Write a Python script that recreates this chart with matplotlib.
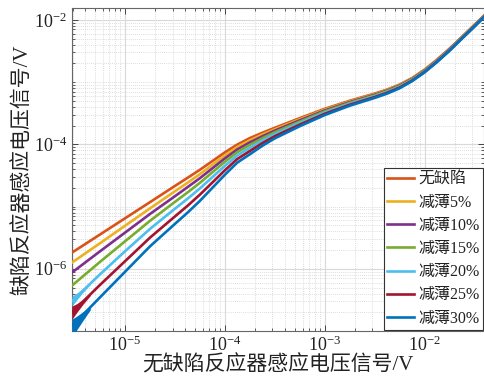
import matplotlib
matplotlib.use("Agg")
import numpy as np
import matplotlib.pyplot as plt
from matplotlib.ticker import LogLocator, NullFormatter, FixedLocator

plt.rcParams['font.family'] = ['Liberation Serif', 'Noto Sans CJK SC']
plt.rcParams['mathtext.fontset'] = 'stix'

# x: 无缺陷反应器感应电压信号 (V)
x_vals = [2.95e-6, 5.62e-6, 1.00e-5, 1.78e-5, 3.16e-5, 4.22e-5, 5.62e-5, 7.50e-5, 1.00e-4,
          1.33e-4, 1.78e-4, 2.37e-4, 3.16e-4, 5.62e-4, 1.00e-3, 1.78e-3, 3.16e-3, 4.22e-3,
          5.62e-3, 7.50e-3, 1.00e-2, 1.33e-2, 1.78e-2, 2.37e-2, 3.16e-2, 3.98e-2]

labels = ['无缺陷', '减薄5%', '减薄10%', '减薄15%', '减薄20%', '减薄25%', '减薄30%']

logy_none = [-5.74, -5.45, -5.19, -4.93, -4.67, -4.54, -4.41, -4.27, -4.13, -4.005, -3.90,
             -3.815, -3.735, -3.58, -3.43, -3.30, -3.185, -3.12, -3.04, -2.935, -2.80, -2.64,
             -2.462, -2.272, -2.08, -1.925]
logy_05 = [-5.90, -5.59, -5.31, -5.03, -4.755, -4.62, -4.48, -4.33, -4.18, -4.045, -3.936,
           -3.844, -3.759, -3.598, -3.444, -3.311, -3.195, -3.129, -3.048, -2.942, -2.806,
           -2.646, -2.467, -2.276, -2.084, -1.929]
logy_10 = [-6.06, -5.72, -5.42, -5.12, -4.835, -4.69, -4.545, -4.386, -4.227, -4.083, -3.97,
           -3.872, -3.781, -3.615, -3.457, -3.322, -3.204, -3.138, -3.056, -2.949, -2.812,
           -2.651, -2.471, -2.28, -2.088, -1.932]
logy_15 = [-6.27, -5.89, -5.56, -5.23, -4.926, -4.775, -4.62, -4.45, -4.281, -4.127, -4.009,
           -3.903, -3.806, -3.635, -3.472, -3.334, -3.214, -3.147, -3.065, -2.956, -2.819,
           -2.657, -2.477, -2.285, -2.093, -1.936]
logy_20 = [-6.52, -6.09, -5.72, -5.36, -5.036, -4.876, -4.71, -4.528, -4.346, -4.179, -4.056,
           -3.941, -3.837, -3.658, -3.49, -3.348, -3.227, -3.159, -3.076, -2.965, -2.827,
           -2.664, -2.483, -2.29, -2.098, -1.94]
logy_25 = [-6.70, -6.26, -5.88, -5.50, -5.16, -4.99, -4.81, -4.614, -4.418, -4.237, -4.108,
           -3.983, -3.871, -3.684, -3.51, -3.364, -3.241, -3.172, -3.088, -2.975, -2.836,
           -2.672, -2.49, -2.296, -2.104, -1.945]
logy_30 = [-6.92, -6.46, -6.05, -5.64, -5.28, -5.10, -4.91, -4.70, -4.49, -4.295, -4.16,
           -4.025, -3.905, -3.71, -3.53, -3.38, -3.255, -3.185, -3.10, -2.985, -2.845, -2.68,
           -2.497, -2.302, -2.11, -1.95]

# noisy spread at the smallest signals (log10 V)
x_band = [2.95e-6, 3.3e-6, 3.8e-6, 4.5e-6]
band_20_hi = [-6.44, -6.39, -6.32, -6.23]
band_20_lo = [-6.60, -6.50, -6.38, -6.25]
band_25_hi = [-6.60, -6.56, -6.49, -6.40]
band_25_lo = [-6.81, -6.70, -6.57, -6.43]
band_30_hi = [-6.81, -6.76, -6.69, -6.61]
band_30_lo = [-7.10, -6.98, -6.83, -6.66]

colors = ['#D95319', '#EDB120', '#7E2F8E', '#77AC30', '#4DBEEE', '#A2142F', '#0072BD']
series = [logy_none, logy_05, logy_10, logy_15, logy_20, logy_25, logy_30]
bands = {4: (band_20_lo, band_20_hi), 5: (band_25_lo, band_25_hi), 6: (band_30_lo, band_30_hi)}

fig = plt.figure(figsize=(4.85, 3.81), dpi=100)
ax = fig.add_axes([72 / 485, 50 / 381, 412.5 / 485, 323 / 381])

for i, (ly, c, lab) in enumerate(zip(series, colors, labels)):
    ax.plot(x_vals, np.power(10.0, ly), color=c, lw=1.9, label=lab, zorder=3 + i * 0.01,
            solid_joinstyle='round')
    if i in bands:
        lo, hi = bands[i]
        ax.fill_between(x_band, np.power(10.0, lo), np.power(10.0, hi), color=c, lw=0,
                        zorder=3 + i * 0.01)

ax.set_xscale('log')
ax.set_yscale('log')
ax.set_xlim(2.95e-6, 3.98e-2)
ax.set_ylim(1.0e-7, 1.55e-2)

ax.xaxis.set_major_locator(FixedLocator([1e-5, 1e-4, 1e-3, 1e-2]))
ax.yaxis.set_major_locator(FixedLocator([1e-6, 1e-4, 1e-2]))
ax.xaxis.set_minor_locator(LogLocator(base=10, subs=range(2, 10), numticks=20))
ax.yaxis.set_minor_locator(LogLocator(base=10, subs=range(1, 10), numticks=20))
ax.xaxis.set_minor_formatter(NullFormatter())
ax.yaxis.set_minor_formatter(NullFormatter())

ax.grid(True, which='major', color='#d9d9d9', lw=0.8, ls='-', zorder=0)
ax.grid(True, which='minor', color='#d2d2d2', lw=0.6, ls=(0, (1, 1.5)), zorder=0)
ax.set_axisbelow(True)

ax.tick_params(which='both', direction='in', top=True, right=True, colors='#444444',
               labelcolor='#222222', labelsize=13)
ax.tick_params(which='major', length=4, width=0.7)
ax.tick_params(which='minor', length=2.2, width=0.6)
for s in ax.spines.values():
    s.set_color('#666666')
    s.set_linewidth(0.8)

ax.set_xlabel('无缺陷反应器感应电压信号/V', fontsize=15, color='#222222', labelpad=0)
ax.set_ylabel('缺陷反应器感应电压信号/V', fontsize=15, color='#222222', labelpad=1)

leg = ax.legend(loc='lower right', fontsize=11.5, frameon=True, fancybox=False,
                edgecolor='#333333', framealpha=1, borderaxespad=0.08,
                handlelength=1.7, handletextpad=0.3, labelspacing=0.45, borderpad=0.2)
leg.get_frame().set_linewidth(0.8)
for t in leg.get_texts():
    t.set_color('#222222')

fig.savefig('out.png', dpi=100)
